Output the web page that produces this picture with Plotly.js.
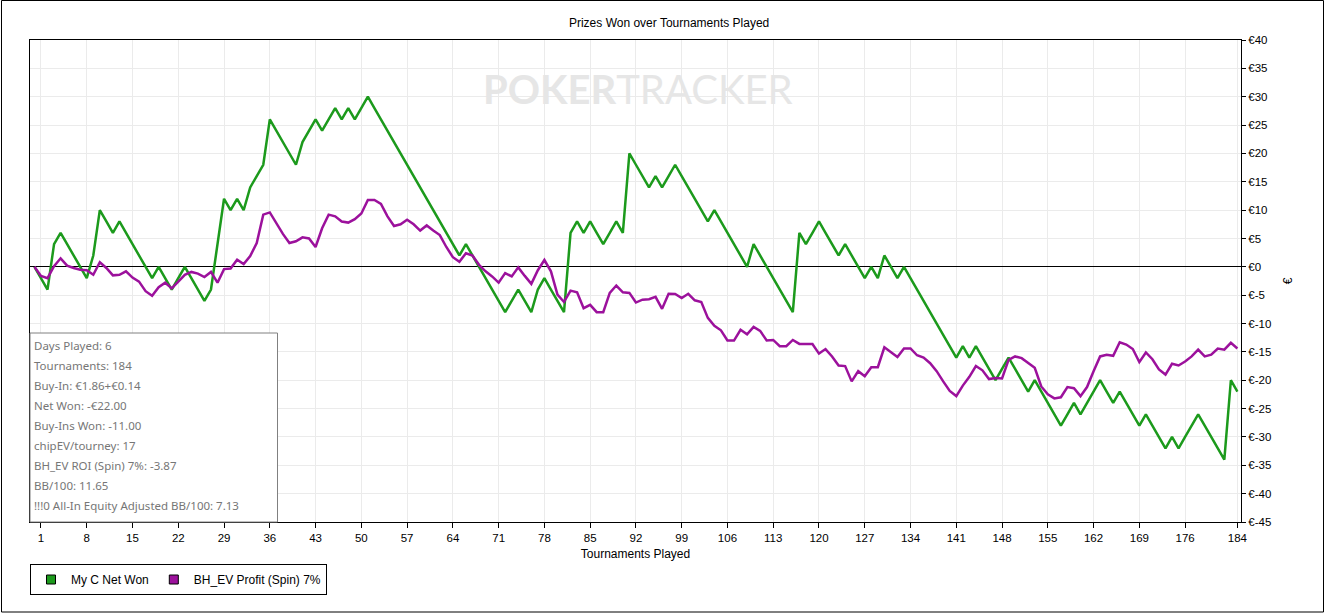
<!DOCTYPE html>
<html>
<head>
<meta charset="utf-8">
<script src="https://cdn.plot.ly/plotly-3.0.1.min.js"></script>
<style>html,body{margin:0;padding:0;background:#fff;}#chart{width:1325px;height:614px;}</style>
</head>
<body>
<div id="chart"></div>
<script>
// ---- data ----
const tournaments = Array.from({length: 185}, (_, i) => i);

const netWon = [
  0,-2,-4,4,6,4,2,0,-2,2,
  10,8,6,8,6,4,2,0,-2,0,
  -2,-4,-2,0,-2,-4,-6,-4,4,12,
  10,12,10,14,16,18,26,24,22,20,
  18,22,24,26,24,26,28,26,28,26,
  28,30,28,26,24,22,20,18,16,14,
  12,10,8,6,4,2,4,2,0,-2,
  -4,-6,-8,-6,-4,-6,-8,-4,-2,-4,
  -6,-8,6,8,6,8,6,4,6,8,
  6,20,18,16,14,16,14,16,18,16,
  14,12,10,8,10,8,6,4,2,0,
  4,2,0,-2,-4,-6,-8,6,4,6,
  8,6,4,2,4,2,0,-2,0,-2,
  2,0,-2,0,-2,-4,-6,-8,-10,-12,
  -14,-16,-14,-16,-14,-16,-18,-20,-18,-16,
  -18,-20,-22,-20,-22,-24,-26,-28,-26,-24,
  -26,-24,-22,-20,-22,-24,-22,-24,-26,-28,
  -26,-28,-30,-32,-30,-32,-30,-28,-26,-28,
  -30,-32,-34,-20,-22
];

const bhEvProfit = [
  0,-1.6,-2.0,0.1,1.5,0.2,-0.2,-0.5,-0.6,-1.4,
  0.8,-0.2,-1.5,-1.4,-0.8,-1.9,-2.6,-4.3,-5.1,-3.6,
  -2.8,-3.8,-2.6,-1.4,-0.9,-1.2,-1.8,-0.9,-2.8,-0.4,
  -0.3,1.25,0.5,1.9,4.2,9.2,9.6,7.7,5.8,4.2,
  4.5,5.2,5.0,3.5,6.8,9.2,8.9,8.0,7.8,8.4,
  9.4,11.8,11.8,11.1,8.9,7.2,7.5,8.3,7.5,6.4,
  7.3,6.4,5.6,3.5,1.7,0.9,2.4,2.0,0.35,-0.8,
  -1.7,-2.8,-1.1,-1.7,-0.1,-1.6,-3.0,-0.6,1.2,-0.8,
  -4.9,-6.2,-4.2,-4.5,-7.3,-6.7,-8.0,-8.0,-4.6,-3.3,
  -4.5,-4.6,-6.3,-5.8,-5.7,-5.3,-7.4,-4.75,-4.8,-5.5,
  -4.75,-5.9,-6.2,-9.0,-10.4,-11.2,-13.0,-13.0,-11.1,-11.9,
  -10.6,-11.3,-13.0,-12.9,-14.0,-14.0,-12.9,-13.6,-13.6,-13.6,
  -15.3,-14.5,-15.8,-17.4,-17.5,-20.2,-18.4,-19.3,-17.7,-17.7,
  -14.2,-15.1,-15.9,-14.4,-14.4,-15.6,-16.0,-17.0,-18.4,-20.2,
  -21.9,-22.8,-20.95,-19.4,-17.5,-18.25,-19.8,-19.6,-19.7,-16.4,
  -15.8,-16.1,-17.0,-17.8,-21.1,-22.5,-23.2,-23.0,-21.2,-21.4,
  -22.8,-21.2,-18.4,-15.8,-15.5,-15.7,-13.3,-13.7,-14.5,-16.8,
  -15.1,-16.3,-18.1,-19.0,-17.1,-17.4,-16.7,-15.8,-14.6,-15.8,
  -15.5,-14.4,-14.6,-13.4,-14.4
];

const seriesNames = ['My C Net Won', 'BH_EV Profit (Spin) 7%'];

const xTickVals = [1,8,15,22,29,36,43,50,57,64,71,78,85,92,99,106,113,120,127,134,141,148,155,162,169,176,184];
const yTickVals = [40,35,30,25,20,15,10,5,0,-5,-10,-15,-20,-25,-30,-35,-40,-45];

const statLines = [
  'Days Played: 6',
  'Tournaments: 184',
  'Buy-In: €1.86+€0.14',
  'Net Won: -€22.00',
  'Buy-Ins Won: -11.00',
  'chipEV/tourney: 17',
  'BH_EV ROI (Spin) 7%: -3.87',
  'BB/100: 11.65',
  '!!!0 All-In Equity Adjusted BB/100: 7.13'
];

// ---- styling ----
const GREEN = '#1c9a1c';
const PURPLE = '#9c119c';

// plot-area pixel geometry for paper conversions
const PL = 30, PR = 1241, PT = 40, PB = 522;
const px2x = p => (p - PL) / (PR - PL);
const py2y = p => (PB - p) / (PB - PT);

const traces = [
  {x: tournaments, y: netWon, type: 'scatter', mode: 'lines', name: seriesNames[0],
   line: {color: GREEN, width: 2.5}, showlegend: false, hoverinfo: 'x+y'},
  {x: tournaments, y: bhEvProfit, type: 'scatter', mode: 'lines', name: seriesNames[1],
   line: {color: PURPLE, width: 2.5}, showlegend: false, hoverinfo: 'x+y'},
  // legend entries (square swatches)
  {x: [null], y: [null], type: 'scatter', mode: 'markers', name: seriesNames[0],
   marker: {symbol: 'square', size: 9, color: GREEN, line: {color: '#000', width: 1}}},
  {x: [null], y: [null], type: 'scatter', mode: 'markers', name: seriesNames[1],
   marker: {symbol: 'square', size: 9, color: PURPLE, line: {color: '#000', width: 1}}}
];

const annotations = [
  {xref: 'paper', yref: 'paper', x: px2x(638), y: py2y(89), xanchor: 'center', yanchor: 'middle',
   showarrow: false, text: '<b>POKER</b>TRACKER',
   font: {family: 'Lato, "Open Sans", sans-serif', size: 40, color: '#e6e6e6'}}
];
statLines.forEach((t, i) => {
  annotations.push({
    xref: 'paper', yref: 'paper', x: px2x(32), y: py2y(345 + i * 20),
    xanchor: 'left', yanchor: 'middle', showarrow: false, text: t,
    font: {family: '"Noto Sans", "Open Sans", sans-serif', size: 11.5, color: '#767676'}
  });
});

const layout = {
  width: 1325, height: 614,
  margin: {l: PL, r: 1325 - PR, t: PT, b: 614 - PB, pad: 0},
  paper_bgcolor: '#ffffff', plot_bgcolor: '#ffffff',
  font: {family: '"Liberation Sans", Arial, sans-serif', size: 11.5, color: '#000'},
  title: {text: 'Prizes Won over Tournaments Played', font: {size: 12, color: '#000'},
          xref: 'container', x: 0.505, xanchor: 'center', yref: 'container', y: 1 - 22.5 / 614, yanchor: 'middle'},
  xaxis: {
    range: [-0.68, 184.55], tickmode: 'array', tickvals: xTickVals, ticktext: xTickVals.map(String),
    ticks: 'outside', ticklen: 5, tickcolor: '#000', showline: true, linecolor: '#000', linewidth: 1,
    mirror: true, showgrid: true, gridcolor: '#ebebeb', gridwidth: 1, zeroline: false,
    title: {text: 'Tournaments Played', font: {size: 12}, standoff: 6}
  },
  yaxis: {
    range: [-45, 40], side: 'right', tickmode: 'array', tickvals: yTickVals, ticktext: yTickVals.map(v => '€' + v),
    ticks: 'outside', ticklen: 4, tickcolor: '#000', showline: true, linecolor: '#000', linewidth: 1,
    mirror: true, showgrid: true, gridcolor: '#ebebeb', gridwidth: 1,
    zeroline: true, zerolinecolor: '#000', zerolinewidth: 1,
    title: {text: '€', font: {size: 12}, standoff: 13}
  },
  legend: {orientation: 'h', x: 0, xanchor: 'left', y: py2y(564), yanchor: 'top',
           bgcolor: '#fff', bordercolor: '#000', borderwidth: 1, font: {size: 12, color: '#000'},
           itemwidth: 30, traceorder: 'normal'},
  shapes: [
    {type: 'rect', xref: 'paper', yref: 'paper', x0: 0, x1: px2x(277.5), y0: 0, y1: py2y(333),
     line: {color: '#808080', width: 1}, fillcolor: '#ffffff', layer: 'above'},
    {type: 'rect', xref: 'paper', yref: 'paper', x0: px2x(1.5), x1: px2x(1323.5), y0: py2y(612), y1: py2y(0.5),
     line: {color: '#000', width: 1}, fillcolor: 'rgba(0,0,0,0)', layer: 'above'}
  ],
  annotations: annotations,
  hovermode: 'closest'
};

Plotly.newPlot('chart', traces, layout, {displayModeBar: false, staticPlot: false});
</script>
</body>
</html>
